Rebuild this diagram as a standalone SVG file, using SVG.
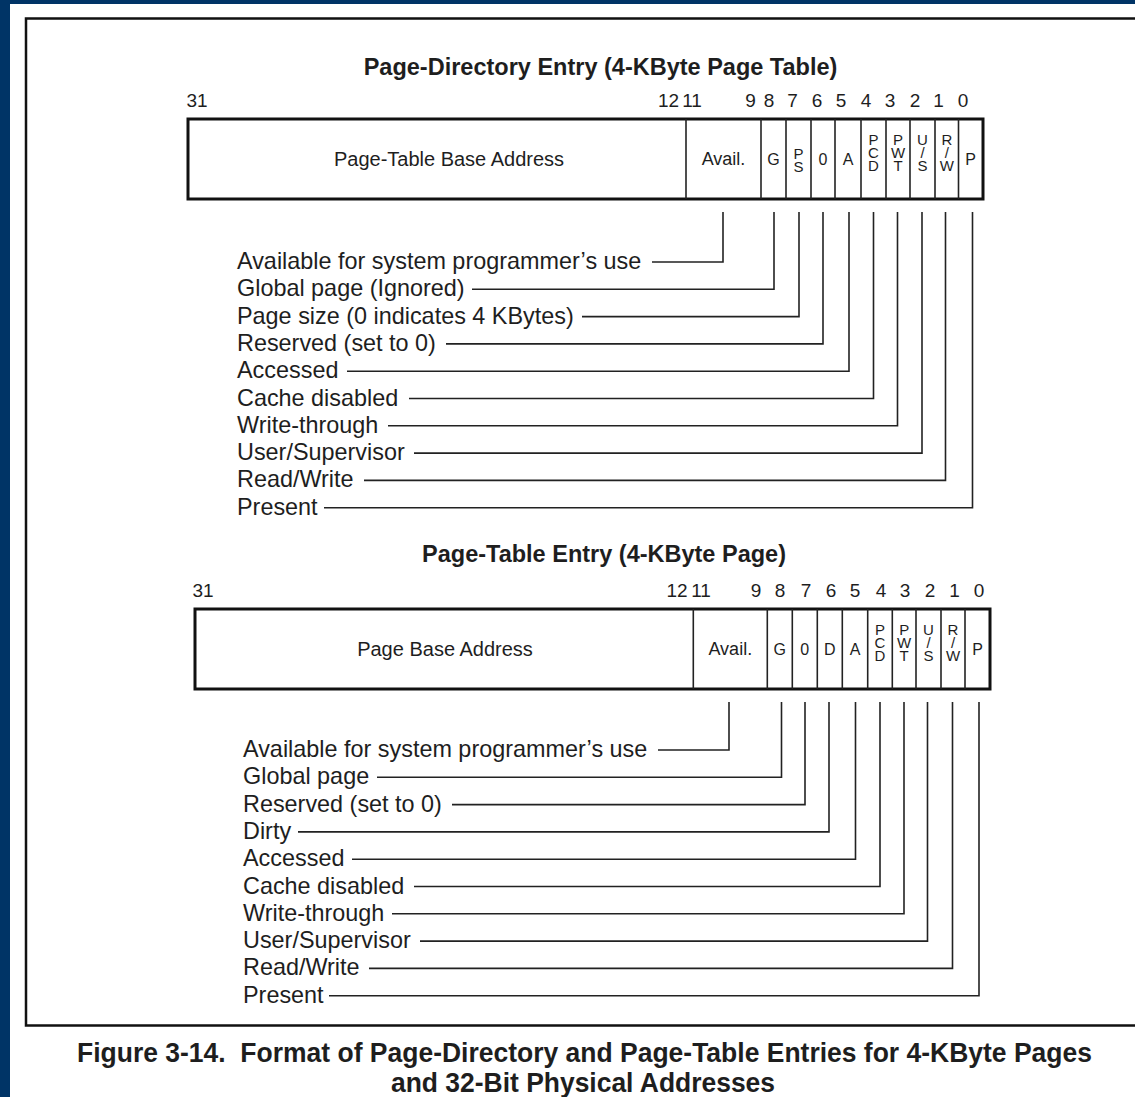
<svg xmlns="http://www.w3.org/2000/svg" width="1135" height="1097" viewBox="0 0 1135 1097">
  <style>
    text { font-family: "Liberation Sans", Arial, sans-serif; fill: #1e1e1e; }
    .reg { fill: #fff; stroke: #111; stroke-width: 3; }
    .div { stroke: #222; stroke-width: 1.6; }
    .bit { font-size: 19px; text-anchor: middle; }
    .cell { font-size: 16px; text-anchor: middle; }
    .stack { font-size: 15px; text-anchor: middle; }
    .avail { font-size: 18px; text-anchor: middle; }
    .base { font-size: 20px; text-anchor: middle; }
    .desc { font-size: 23.4px; }
    .title { font-size: 23.5px; font-weight: bold; text-anchor: middle; }
    .cap { font-family: "Liberation Sans Narrow", "Liberation Sans", Arial, sans-serif; font-size: 27px; font-weight: bold; text-anchor: middle; }
    .lead { fill: none; stroke: #222; stroke-width: 1.6; }
  </style>

  <!-- page background and figure frame -->
  <rect x="0" y="0" width="1135" height="1097" fill="#003466"/>
  <rect x="10" y="4" width="1125" height="1093" fill="#fff"/>
  <rect x="26" y="18.5" width="1120" height="1007" fill="none" stroke="#111" stroke-width="2.5"/>

  <!-- Page-directory entry -->
  <g id="pde-title">
    <text class="title" x="600.5" y="75">Page-Directory Entry (4-KByte Page Table)</text>
  </g>
  <g id="pde-bits">
    <text class="bit" x="197" y="107">31</text>
    <text class="bit" x="668.5" y="107">12</text>
    <text class="bit" x="692" y="107">11</text>
    <text class="bit" x="750.5" y="107">9</text>
    <text class="bit" x="769" y="107">8</text>
    <text class="bit" x="792.5" y="107">7</text>
    <text class="bit" x="817" y="107">6</text>
    <text class="bit" x="841" y="107">5</text>
    <text class="bit" x="866" y="107">4</text>
    <text class="bit" x="890" y="107">3</text>
    <text class="bit" x="915" y="107">2</text>
    <text class="bit" x="938.5" y="107">1</text>
    <text class="bit" x="963" y="107">0</text>
  </g>
  <g id="pde-register">
    <rect class="reg" x="188" y="119" width="795" height="80"/>
    <line class="div" x1="686" y1="119" x2="686" y2="199"/>
    <line class="div" x1="761" y1="119" x2="761" y2="199"/>
    <line class="div" x1="786" y1="119" x2="786" y2="199"/>
    <line class="div" x1="811" y1="119" x2="811" y2="199"/>
    <line class="div" x1="835" y1="119" x2="835" y2="199"/>
    <line class="div" x1="861" y1="119" x2="861" y2="199"/>
    <line class="div" x1="886" y1="119" x2="886" y2="199"/>
    <line class="div" x1="910" y1="119" x2="910" y2="199"/>
    <line class="div" x1="935" y1="119" x2="935" y2="199"/>
    <line class="div" x1="958.5" y1="119" x2="958.5" y2="199"/>
    <text class="base" x="449" y="166">Page-Table Base Address</text>
    <text class="avail" x="723.5" y="165">Avail.</text>
    <text class="cell" x="773.5" y="165">G</text>
    <text class="stack" x="798.5" y="159">P<tspan x="798.5" dy="13">S</tspan></text>
    <text class="cell" x="823" y="165">0</text>
    <text class="cell" x="848" y="165">A</text>
    <text class="stack" x="873.5" y="145">P<tspan x="873.5" dy="13">C</tspan><tspan x="873.5" dy="13">D</tspan></text>
    <text class="stack" x="898" y="145">P<tspan x="898" dy="13">W</tspan><tspan x="898" dy="13">T</tspan></text>
    <text class="stack" x="922.5" y="145">U<tspan x="922.5" dy="13">/</tspan><tspan x="922.5" dy="13">S</tspan></text>
    <text class="stack" x="946.8" y="145">R<tspan x="946.8" dy="13">/</tspan><tspan x="946.8" dy="13">W</tspan></text>
    <text class="cell" x="970.7" y="165">P</text>
  </g>
  <g id="pde-fields">
    <text class="desc" x="237" y="269">Available for system programmer’s use</text>
    <text class="desc" x="237" y="296.3">Global page (Ignored)</text>
    <text class="desc" x="237" y="323.6">Page size (0 indicates 4 KBytes)</text>
    <text class="desc" x="237" y="350.9">Reserved (set to 0)</text>
    <text class="desc" x="237" y="378.2">Accessed</text>
    <text class="desc" x="237" y="405.5">Cache disabled</text>
    <text class="desc" x="237" y="432.8">Write-through</text>
    <text class="desc" x="237" y="460.1">User/Supervisor</text>
    <text class="desc" x="237" y="487.4">Read/Write</text>
    <text class="desc" x="237" y="514.7">Present</text>
  </g>

  <!-- Page-table entry -->
  <g id="pte-title">
    <text class="title" x="604" y="562">Page-Table Entry (4-KByte Page)</text>
  </g>
  <g id="pte-bits">
    <text class="bit" x="203" y="597">31</text>
    <text class="bit" x="677" y="597">12</text>
    <text class="bit" x="701" y="597">11</text>
    <text class="bit" x="756" y="597">9</text>
    <text class="bit" x="780" y="597">8</text>
    <text class="bit" x="806" y="597">7</text>
    <text class="bit" x="831" y="597">6</text>
    <text class="bit" x="855" y="597">5</text>
    <text class="bit" x="881" y="597">4</text>
    <text class="bit" x="905" y="597">3</text>
    <text class="bit" x="930" y="597">2</text>
    <text class="bit" x="954.5" y="597">1</text>
    <text class="bit" x="979" y="597">0</text>
  </g>
  <g id="pte-register">
    <rect class="reg" x="195" y="609" width="795" height="80"/>
    <line class="div" x1="693.3" y1="609" x2="693.3" y2="689"/>
    <line class="div" x1="767.3" y1="609" x2="767.3" y2="689"/>
    <line class="div" x1="792.3" y1="609" x2="792.3" y2="689"/>
    <line class="div" x1="817.3" y1="609" x2="817.3" y2="689"/>
    <line class="div" x1="842.3" y1="609" x2="842.3" y2="689"/>
    <line class="div" x1="867.7" y1="609" x2="867.7" y2="689"/>
    <line class="div" x1="892.3" y1="609" x2="892.3" y2="689"/>
    <line class="div" x1="916" y1="609" x2="916" y2="689"/>
    <line class="div" x1="941" y1="609" x2="941" y2="689"/>
    <line class="div" x1="965" y1="609" x2="965" y2="689"/>
    <text class="base" x="445" y="656">Page Base Address</text>
    <text class="avail" x="730.3" y="655">Avail.</text>
    <text class="cell" x="779.8" y="655">G</text>
    <text class="cell" x="804.8" y="655">0</text>
    <text class="cell" x="829.8" y="655">D</text>
    <text class="cell" x="855" y="655">A</text>
    <text class="stack" x="880" y="635">P<tspan x="880" dy="13">C</tspan><tspan x="880" dy="13">D</tspan></text>
    <text class="stack" x="904.2" y="635">P<tspan x="904.2" dy="13">W</tspan><tspan x="904.2" dy="13">T</tspan></text>
    <text class="stack" x="928.5" y="635">U<tspan x="928.5" dy="13">/</tspan><tspan x="928.5" dy="13">S</tspan></text>
    <text class="stack" x="953" y="635">R<tspan x="953" dy="13">/</tspan><tspan x="953" dy="13">W</tspan></text>
    <text class="cell" x="977.5" y="655">P</text>
  </g>
  <g id="pte-fields">
    <text class="desc" x="243" y="757">Available for system programmer’s use</text>
    <text class="desc" x="243" y="784.3">Global page</text>
    <text class="desc" x="243" y="811.6">Reserved (set to 0)</text>
    <text class="desc" x="243" y="838.9">Dirty</text>
    <text class="desc" x="243" y="866.2">Accessed</text>
    <text class="desc" x="243" y="893.5">Cache disabled</text>
    <text class="desc" x="243" y="920.8">Write-through</text>
    <text class="desc" x="243" y="948.1">User/Supervisor</text>
    <text class="desc" x="243" y="975.4">Read/Write</text>
    <text class="desc" x="243" y="1002.7">Present</text>
  </g>

  <!-- leader lines from each bit field to its description -->
  <g id="connectors">
    <path class="lead" d="M723,212 V262 H652"/>
    <path class="lead" d="M774,212 V289.3 H472"/>
    <path class="lead" d="M799,212 V316.6 H582"/>
    <path class="lead" d="M823,212 V343.9 H446"/>
    <path class="lead" d="M849,212 V371.2 H347"/>
    <path class="lead" d="M873.5,212 V398.5 H409"/>
    <path class="lead" d="M897.5,212 V425.8 H388"/>
    <path class="lead" d="M922,212 V453.1 H414"/>
    <path class="lead" d="M945.5,212 V480.4 H364"/>
    <path class="lead" d="M972.5,212 V507.7 H324"/>

    <path class="lead" d="M729,702 V750 H658"/>
    <path class="lead" d="M781.5,702 V777.3 H377"/>
    <path class="lead" d="M805,702 V804.6 H452"/>
    <path class="lead" d="M829,702 V831.9 H298"/>
    <path class="lead" d="M855.5,702 V859.2 H352"/>
    <path class="lead" d="M880,702 V886.5 H414"/>
    <path class="lead" d="M904,702 V913.8 H392"/>
    <path class="lead" d="M927.5,702 V941.1 H420"/>
    <path class="lead" d="M952.5,702 V968.4 H369"/>
    <path class="lead" d="M979,702 V995.7 H329"/>
  </g>

  <!-- figure caption -->
  <g id="caption">
    <text class="cap" x="584.5" y="1062" textLength="1015" lengthAdjust="spacingAndGlyphs" xml:space="preserve">Figure 3-14.  Format of Page-Directory and Page-Table Entries for 4-KByte Pages</text>
    <text class="cap" x="583" y="1092" textLength="384" lengthAdjust="spacingAndGlyphs">and 32-Bit Physical Addresses</text>
  </g>
</svg>
